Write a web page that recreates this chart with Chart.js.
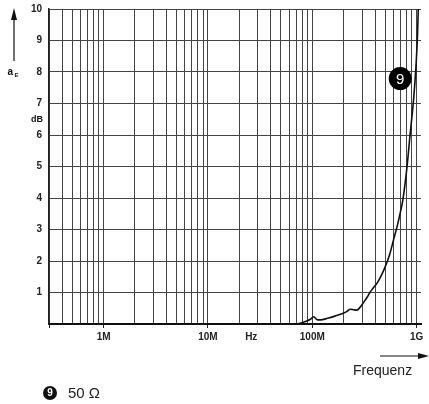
<!DOCTYPE html>
<html><head><meta charset="utf-8">
<script src="https://cdn.jsdelivr.net/npm/chart.js@4"></script>
<style>html,body{margin:0;padding:0;background:#fff}</style>
</head><body>
<canvas id="c" width="429" height="404"></canvas>
<script>
// ---- data ----
const frequencies = [3e5, 1e6, 1e7, 3e7, 5e7, 6.9e7, 7.8e7, 8.9e7, 9.6e7, 1.03e8, 1.08e8, 1.13e8, 1.2e8, 1.4e8, 1.65e8, 1.98e8, 2.15e8, 2.31e8, 2.5e8, 2.68e8, 2.85e8, 3.08e8, 3.35e8, 3.59e8, 3.85e8, 4.16e8, 4.6e8, 5.0e8, 5.5e8, 6.0e8, 6.5e8, 6.94e8, 7.37e8, 8.08e8, 8.67e8, 9.33e8, 9.84e8, 1.02e9, 1.035e9];
const attenuation = [0, 0, 0, 0, 0, 0, 0.03, 0.1, 0.15, 0.23, 0.17, 0.13, 0.13, 0.18, 0.25, 0.34, 0.4, 0.47, 0.45, 0.44, 0.52, 0.67, 0.85, 1.02, 1.15, 1.29, 1.55, 1.82, 2.2, 2.67, 3.1, 3.51, 3.94, 4.99, 6.05, 7.11, 8.17, 9.23, 10];
const yTickValues = [0, 1, 2, 3, 4, 5, 6, 7, 8, 9, 10];
const xDecadeValues = [1e6, 1e7, 1e8, 1e9];
const xDecadeLabels = ['1M', '10M', '100M', '1G'];
const xUnitValue = 2.6e7;
const xUnitLabel = 'Hz';
const yTitle = 'a';
const yTitleSub = 'E';
const yUnit = 'dB';
const xTitle = 'Frequenz';
const seriesMarker = '9';
const seriesName = '50 Ω';
const markerAt = { f: 6.95e8, v: 7.79 };

const FONT = "'Liberation Sans', Arial, Helvetica, sans-serif";

// grid positions for a log paper: 1..9 x 10^n within range
const xMin = 3e5, xMax = 1.1e9;
const gridTicks = [];
for (let e = 5; e <= 9; e++) {
  for (let m = 1; m <= 9; m++) {
    const v = m * Math.pow(10, e);
    if (v >= xMin * 0.999 && v <= 1.0001e9) gridTicks.push(+v.toPrecision(3));
  }
}
gridTicks.push(xUnitValue);
gridTicks.sort((a, b) => a - b);

const isDecade = v => xDecadeValues.some(d => Math.abs(d - v) / d < 1e-6) || Math.abs(v - xMin) / xMin < 1e-6;

const annot = {
  id: 'annot',
  afterDraw(chart) {
    const c = chart.ctx, xs = chart.scales.x, ys = chart.scales.y;
    c.save();
    c.strokeStyle = '#111'; c.fillStyle = '#111';
    // y arrow
    c.lineWidth = 1.2;
    c.beginPath(); c.moveTo(14, 61); c.lineTo(14, 18); c.stroke();
    c.beginPath(); c.moveTo(14, 8); c.lineTo(11, 20); c.lineTo(17, 20); c.closePath(); c.fill();
    c.textBaseline = 'alphabetic'; c.textAlign = 'left';
    c.font = 'bold 10px ' + FONT;
    c.fillText(yTitle, 7.5, 75);
    c.font = 'bold 6px ' + FONT;
    c.fillText(yTitleSub, 14.5, 77);
    c.textAlign = 'right';
    c.font = 'bold 9px ' + FONT;
    c.fillText(yUnit, 43, 122);
    // x title + arrow
    c.textAlign = 'left';
    c.font = '14px ' + FONT;
    c.fillStyle = '#222';
    c.fillText(xTitle, 353, 375);
    c.fillStyle = '#111';
    c.beginPath(); c.moveTo(380, 356); c.lineTo(420, 356); c.stroke();
    c.beginPath(); c.moveTo(429, 356); c.lineTo(418, 353); c.lineTo(418, 359); c.closePath(); c.fill();
    // legend
    c.beginPath(); c.arc(50, 393, 7, 0, Math.PI * 2); c.fill();
    c.fillStyle = '#fff'; c.textAlign = 'center'; c.textBaseline = 'middle';
    c.font = 'bold 10px ' + FONT;
    c.fillText(seriesMarker, 50, 393.5);
    c.fillStyle = '#222'; c.textAlign = 'left';
    c.font = '15px ' + FONT;
    c.fillText(seriesName, 68, 394);
    // curve marker
    const mx = xs.getPixelForValue(markerAt.f), my = ys.getPixelForValue(markerAt.v);
    c.fillStyle = '#000';
    c.beginPath(); c.arc(mx, my, 11.5, 0, Math.PI * 2); c.fill();
    c.fillStyle = '#fff'; c.textAlign = 'center'; c.textBaseline = 'middle';
    c.font = '15px ' + FONT;
    c.fillText(seriesMarker, mx, my + 1);
    c.restore();
  }
};

new Chart(document.getElementById('c'), {
  type: 'line',
  data: {
    datasets: [{
      label: seriesName,
      data: frequencies.map((f, i) => ({ x: f, y: attenuation[i] })),
      borderColor: '#111',
      borderWidth: 1.6,
      pointRadius: 0,
      fill: false,
      cubicInterpolationMode: 'monotone'
    }]
  },
  options: {
    responsive: false,
    animation: false,
    layout: { padding: { top: 9, right: 8, left: 0, bottom: 0 } },
    plugins: { legend: { display: false }, tooltip: { enabled: false } },
    scales: {
      x: {
        type: 'logarithmic',
        min: xMin, max: xMax,
        afterBuildTicks(s) { s.ticks = gridTicks.map(v => ({ value: v })); },
        afterFit(s) { s.height = 80; s.paddingLeft = 0; s.paddingRight = 0; },
        ticks: {
          autoSkip: false, maxRotation: 0, minRotation: 0, padding: 3,
          color: '#222',
          font: { family: FONT, size: 10, weight: 'bold' },
          callback(v) {
            if (Math.abs(v - xUnitValue) < 1) return xUnitLabel;
            const i = xDecadeValues.findIndex(d => Math.abs(d - v) / d < 1e-6);
            return i >= 0 ? xDecadeLabels[i] : '';
          }
        },
        grid: {
          color: ctx => (ctx.tick && Math.abs(ctx.tick.value - xUnitValue) < 1) ? 'rgba(0,0,0,0)' : '#444',
          lineWidth: 1,
          tickLength: 4,
          tickColor: ctx => (ctx.tick && isDecade(ctx.tick.value)) ? '#222' : 'rgba(0,0,0,0)'
        },
        border: { color: '#111', width: 2 }
      },
      y: {
        min: 0, max: 10,
        afterBuildTicks(s) { s.ticks = yTickValues.map(v => ({ value: v })); },
        afterFit(s) { s.width = 49; s.paddingTop = 0; s.paddingBottom = 0; },
        ticks: {
          padding: 7, color: '#222',
          font: { family: FONT, size: 10, weight: 'bold' },
          callback: v => (v === 0 ? '' : String(v))
        },
        grid: { color: '#444', lineWidth: 1, drawTicks: false },
        border: { color: '#222', width: 1.5 }
      }
    }
  },
  plugins: [annot]
});
</script>
</body></html>
